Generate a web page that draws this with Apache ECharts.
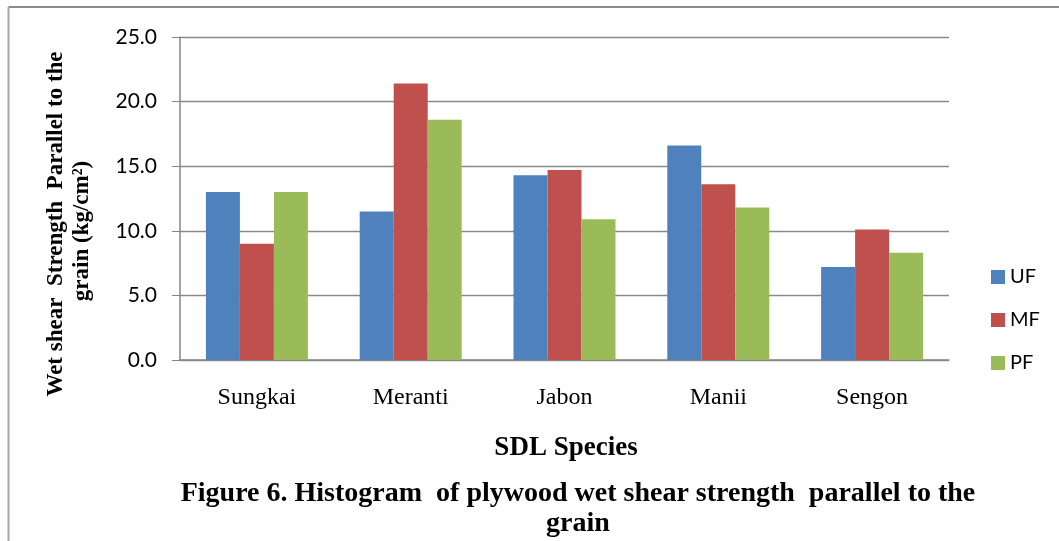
<!DOCTYPE html>
<html>
<head>
<meta charset="utf-8">
<script src="https://cdn.jsdelivr.net/npm/echarts@6/dist/echarts.min.js"></script>
<style>
html,body{margin:0;padding:0;background:#fff;}
#chart{width:1059px;height:541px;}
</style>
</head>
<body>
<div id="chart"></div>
<script>
var categories = ['Sungkai', 'Meranti', 'Jabon', 'Manii', 'Sengon'];
var seriesNames = ['UF', 'MF', 'PF'];
var ufValues = [13.0, 11.5, 14.3, 16.6, 7.2];
var mfValues = [9.0, 21.4, 14.7, 13.6, 10.1];
var pfValues = [13.0, 18.6, 10.9, 11.8, 8.3];
var yTicks = [0, 5, 10, 15, 20, 25];
var yAxisNameLines = ['Wet shear  Strength  Parallel to the', 'grain (kg/cm\u00B2)'];
var xAxisName = 'SDL Species';
var titleLines = ['Figure 6. Histogram  of plywood wet shear strength  parallel to the', 'grain'];
var colors = ['#4F81BD', '#C0504D', '#9BBB59'];

var chart = echarts.init(document.getElementById('chart'), null, {renderer: 'canvas'});
var values = [ufValues, mfValues, pfValues];
var series = seriesNames.map(function (n, i) {
  return {
    name: n,
    type: 'bar',
    data: values[i],
    barWidth: 34,
    barGap: '0%',
    itemStyle: {color: colors[i]}
  };
});
var serif = '"Liberation Serif", "Times New Roman", serif';
chart.setOption({
  animation: false,
  backgroundColor: '#ffffff',
  color: colors,
  grid: {left: 180, right: 110, top: 37, bottom: 181, containLabel: false},
  legend: {
    orient: 'vertical',
    left: 986,
    top: 262,
    itemWidth: 14,
    itemHeight: 14,
    itemGap: 23,
    icon: 'rect',
    textStyle: {fontFamily: 'Lato, sans-serif', fontSize: 20, color: '#000', lineHeight: 20},
    data: seriesNames
  },
  xAxis: {
    type: 'category',
    data: categories,
    axisLine: {show: true, lineStyle: {color: '#868686', width: 1.5}},
    axisTick: {show: false},
    axisLabel: {fontFamily: serif, fontSize: 24, color: '#000', margin: 26}
  },
  yAxis: {
    type: 'value',
    min: yTicks[0],
    max: yTicks[yTicks.length - 1],
    interval: yTicks[1] - yTicks[0],
    axisLine: {show: true, lineStyle: {color: '#868686', width: 1.5}},
    axisTick: {show: true, length: 8, lineStyle: {color: '#868686'}},
    splitLine: {show: true, lineStyle: {color: '#8a8a8a', width: 1.3}},
    axisLabel: {
      fontFamily: 'Lato, sans-serif', fontSize: 21, color: '#000', margin: 23,
      formatter: function (v) { return v.toFixed(1); }
    }
  },
  series: series,
  graphic: [
    {type: 'line', shape: {x1: 8.5, y1: 7, x2: 1059, y2: 7}, style: {stroke: '#8c8c8c', lineWidth: 2}, silent: true},
    {type: 'line', shape: {x1: 8.5, y1: 7, x2: 8.5, y2: 541}, style: {stroke: '#a6a6a6', lineWidth: 2}, silent: true},
    {type: 'text', x: 56, y: 224, rotation: Math.PI / 2,
      style: {text: yAxisNameLines[0], font: 'bold 23px ' + serif, fill: '#000', textAlign: 'center', textVerticalAlign: 'middle'}},
    {type: 'text', x: 82, y: 231, rotation: Math.PI / 2,
      style: {text: yAxisNameLines[1], font: 'bold 23px ' + serif, fill: '#000', textAlign: 'center', textVerticalAlign: 'middle'}},
    {type: 'text', x: 566, y: 448,
      style: {text: xAxisName, font: 'bold 27px ' + serif, fill: '#000', textAlign: 'center', textVerticalAlign: 'middle'}},
    {type: 'text', x: 578, y: 494,
      style: {text: titleLines[0], font: 'bold 28px ' + serif, fill: '#000', textAlign: 'center', textVerticalAlign: 'middle'}},
    {type: 'text', x: 578, y: 524,
      style: {text: titleLines[1], font: 'bold 28px ' + serif, fill: '#000', textAlign: 'center', textVerticalAlign: 'middle'}}
  ]
});
</script>
</body>
</html>
